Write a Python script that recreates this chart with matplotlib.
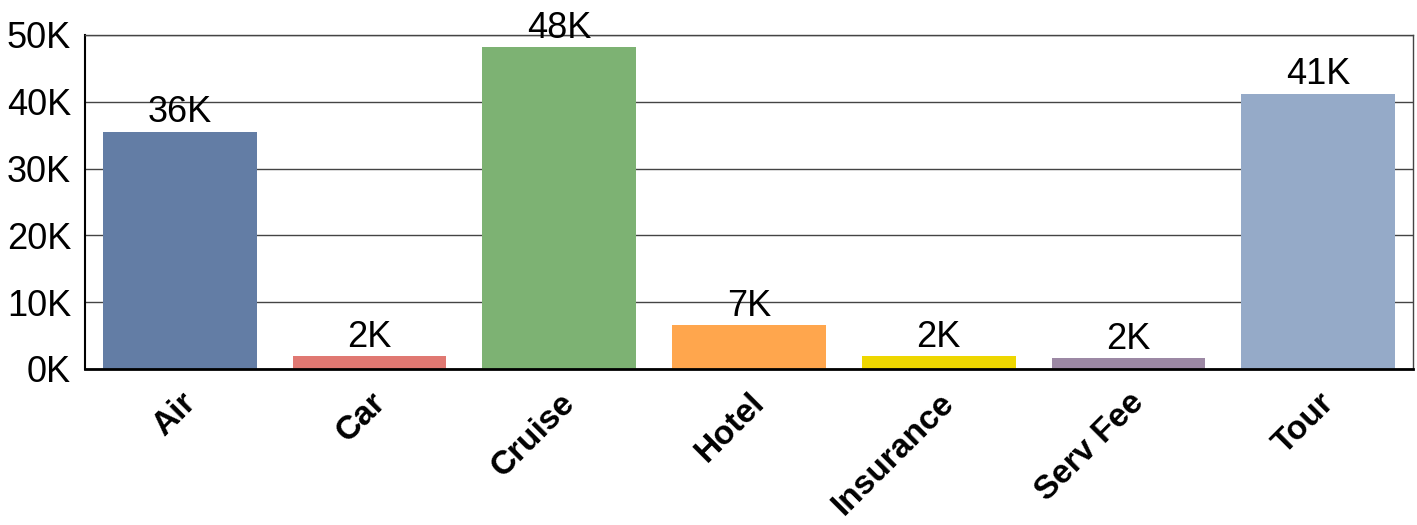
import matplotlib.pyplot as plt
from matplotlib.ticker import FuncFormatter

plt.rcParams['font.family'] = ['Liberation Sans', 'DejaVu Sans']

# values (in thousands)
categories = ["Air", "Car", "Cruise", "Hotel", "Insurance", "Serv Fee", "Tour"]
amounts = [35.5, 1.95, 48.2, 6.6, 1.95, 1.65, 41.2]
bar_labels = ["36K", "2K", "48K", "7K", "2K", "2K", "41K"]
bar_colors = ["#637DA5", "#E07872", "#7DB273", "#FFA64D", "#EED700", "#9C88A4", "#95AAC8"]
y_ticks = [0, 10, 20, 30, 40, 50]

fig = plt.figure(figsize=(14.17, 5.25), dpi=100)
ax = fig.add_axes([85 / 1417, 1 - 369 / 525, (1413 - 85) / 1417, (369 - 35) / 525])

bars = ax.bar(categories, amounts, width=0.81, color=bar_colors, zorder=3)
for rect, txt in zip(bars, bar_labels):
    ax.annotate(txt, (rect.get_x() + rect.get_width() / 2, rect.get_height()),
                xytext=(0, 1), textcoords="offset points",
                ha="center", va="bottom", fontsize=26, zorder=4)

ax.set_xlim(-0.5, len(categories) - 0.5)
ax.set_ylim(0, 50)
ax.set_yticks(y_ticks)
ax.yaxis.set_major_formatter(FuncFormatter(lambda v, p: f"{int(v)}K"))
ax.grid(axis="y", color="#444444", linewidth=1, zorder=1)
ax.tick_params(axis="both", length=0, labelsize=26)
ax.tick_params(axis="y", pad=10)
ax.tick_params(axis="x", pad=13)

for lbl in ax.get_xticklabels():
    lbl.set_rotation(45)
    lbl.set_ha("right")
    lbl.set_va("top")
    lbl.set_rotation_mode("anchor")
    lbl.set_fontweight("bold")
    lbl.set_fontsize(24)

for side in ["top", "right"]:
    ax.spines[side].set_color("#444444")
    ax.spines[side].set_linewidth(1)
ax.spines["left"].set_color("black")
ax.spines["left"].set_linewidth(1.5)
ax.spines["bottom"].set_color("black")
ax.spines["bottom"].set_linewidth(2)
ax.spines["bottom"].set_zorder(5)

plt.savefig("out.png", dpi=100)
